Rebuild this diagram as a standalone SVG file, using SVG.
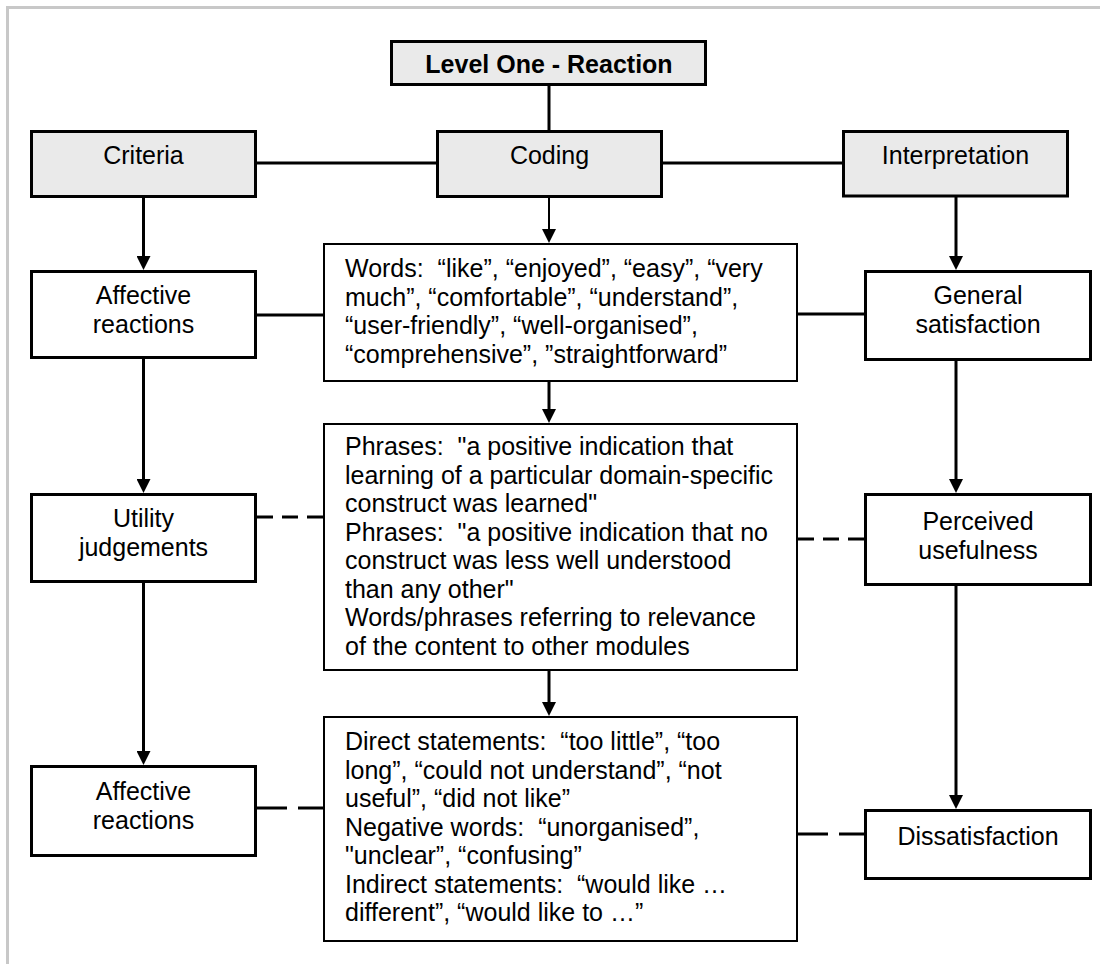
<svg xmlns="http://www.w3.org/2000/svg" width="1102" height="964" viewBox="0 0 1102 964">
<style>
  text { font-family: "Liberation Sans", Arial, sans-serif; font-size: 25px; fill: #000; white-space: pre; }
  .c { text-anchor: middle; }
  .b { font-weight: bold; }
  .hdr { fill: #eaeaea; stroke: #000; stroke-width: 3; }
  .box { fill: #fff; stroke: #000; stroke-width: 3; }
  .tbox { fill: #fff; stroke: #000; stroke-width: 2; }
  .ln { stroke: #000; stroke-width: 3; fill: none; }
  .arr { stroke: #000; stroke-width: 3; fill: none; marker-end: url(#ah); }
  .d1 { stroke: #000; stroke-width: 3; fill: none; stroke-dasharray: 16 9; }
  .d2 { stroke: #000; stroke-width: 3; fill: none; stroke-dasharray: 30 11; }
</style>
<defs>
  <marker id="ah" markerUnits="userSpaceOnUse" markerWidth="14" markerHeight="14" refX="6" refY="7" orient="auto">
    <path d="M0,0 L14,7 L0,14 z" fill="#000"/>
  </marker>
</defs>
<rect width="1102" height="964" fill="#fff"/>
<g id="frame">
  <line x1="7.5" y1="7.5" x2="1100" y2="7.5" stroke="#c8c8c8" stroke-width="3"/>
  <line x1="7.5" y1="6" x2="7.5" y2="964" stroke="#c8c8c8" stroke-width="3"/>
</g>
<g id="connectors">
  <line class="ln" x1="549" y1="86" x2="549" y2="130"/>
  <line class="ln" x1="257" y1="163" x2="436" y2="163"/>
  <line class="ln" x1="663" y1="163" x2="842" y2="163"/>
  <line class="arr" x1="143.5" y1="198" x2="143.5" y2="262"/>
  <line class="arr" x1="549" y1="198" x2="549" y2="235" style="stroke-width:2"/>
  <line class="arr" x1="956" y1="197" x2="956" y2="262"/>
  <line class="ln" x1="257" y1="315" x2="323" y2="315"/>
  <line class="ln" x1="798" y1="314" x2="864" y2="314"/>
  <line class="arr" x1="143.5" y1="359" x2="143.5" y2="485"/>
  <line class="arr" x1="549" y1="382" x2="549" y2="415"/>
  <line class="arr" x1="956" y1="361" x2="956" y2="485"/>
  <line class="d1" x1="257" y1="517" x2="323" y2="517"/>
  <line class="d1" x1="798" y1="539" x2="864" y2="539"/>
  <line class="arr" x1="549" y1="671" x2="549" y2="708"/>
  <line class="arr" x1="143.5" y1="583" x2="143.5" y2="757"/>
  <line class="arr" x1="956" y1="586" x2="956" y2="801"/>
  <line class="d2" x1="257" y1="808" x2="323" y2="808"/>
  <line class="d2" x1="798" y1="834" x2="864" y2="834"/>
</g>
<g id="level-one">
  <rect class="hdr" x="391.5" y="41.5" width="314" height="43"/>
  <text class="c b" x="549" y="73">Level One - Reaction</text>
</g>
<g id="criteria">
  <rect class="hdr" x="31.5" y="131.5" width="224" height="65"/>
  <text class="c" x="143.5" y="164">Criteria</text>
</g>
<g id="coding">
  <rect class="hdr" x="437.5" y="131.5" width="224" height="65"/>
  <text class="c" x="549.5" y="164">Coding</text>
</g>
<g id="interpretation">
  <rect class="hdr" x="843.5" y="131.5" width="224" height="64.5"/>
  <text class="c" x="955.5" y="164">Interpretation</text>
</g>
<g id="affective-reactions-1">
  <rect class="box" x="31.5" y="271.5" width="224" height="86"/>
  <text class="c" x="143.5" y="303.5">Affective</text>
  <text class="c" x="143.5" y="332.5">reactions</text>
</g>
<g id="utility-judgements">
  <rect class="box" x="31.5" y="494.5" width="224" height="87"/>
  <text class="c" x="143.5" y="527">Utility</text>
  <text class="c" x="143.5" y="555.5">judgements</text>
</g>
<g id="affective-reactions-2">
  <rect class="box" x="31.5" y="766.5" width="224" height="89"/>
  <text class="c" x="143.5" y="800">Affective</text>
  <text class="c" x="143.5" y="828.5">reactions</text>
</g>
<g id="general-satisfaction">
  <rect class="box" x="865.5" y="271.5" width="225" height="88"/>
  <text class="c" x="978" y="304">General</text>
  <text class="c" x="978" y="333">satisfaction</text>
</g>
<g id="perceived-usefulness">
  <rect class="box" x="865.5" y="494.5" width="225" height="90"/>
  <text class="c" x="978" y="530">Perceived</text>
  <text class="c" x="978" y="558.5">usefulness</text>
</g>
<g id="dissatisfaction">
  <rect class="box" x="865.5" y="810.5" width="225" height="68"/>
  <text class="c" x="978" y="845">Dissatisfaction</text>
</g>
<g id="words">
  <rect class="tbox" x="324" y="244" width="473" height="137"/>
  <text x="345" y="277">Words:  “like”, “enjoyed”, “easy”, “very</text>
  <text x="345" y="305.5">much”, “comfortable”, “understand”,</text>
  <text x="345" y="334">“user-friendly”, “well-organised”,</text>
  <text x="345" y="362.5">“comprehensive”, ”straightforward”</text>
</g>
<g id="phrases">
  <rect class="tbox" x="324" y="424" width="473" height="246"/>
  <text x="345" y="455">Phrases:  "a positive indication that</text>
  <text x="345" y="483.5">learning of a particular domain-specific</text>
  <text x="345" y="512">construct was learned"</text>
  <text x="345" y="540.5">Phrases:  "a positive indication that no</text>
  <text x="345" y="569">construct was less well understood</text>
  <text x="345" y="597.5">than any other"</text>
  <text x="345" y="626">Words/phrases referring to relevance</text>
  <text x="345" y="654.5">of the content to other modules</text>
</g>
<g id="statements">
  <rect class="tbox" x="324" y="717" width="473" height="224"/>
  <text x="345" y="750">Direct statements:  “too little”, “too</text>
  <text x="345" y="778.5">long”, “could not understand”, “not</text>
  <text x="345" y="807">useful”, “did not like”</text>
  <text x="345" y="835.5">Negative words:  “unorganised”,</text>
  <text x="345" y="864">"unclear”, “confusing”</text>
  <text x="345" y="892.5">Indirect statements:  “would like …</text>
  <text x="345" y="921">different”, “would like to …”</text>
</g>
</svg>
